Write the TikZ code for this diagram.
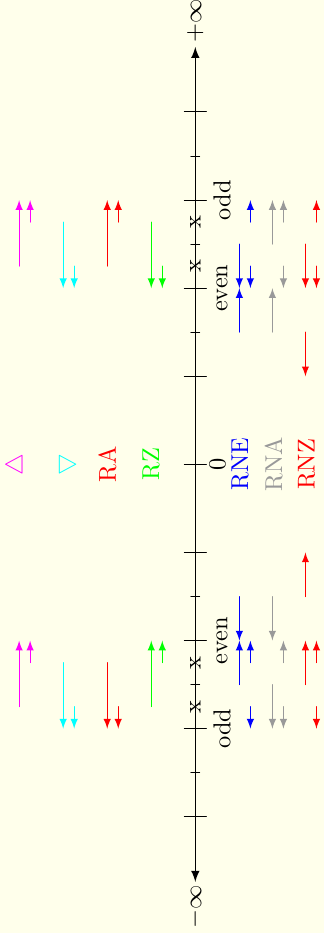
\documentclass[tikz,border=0pt]{standalone}
\definecolor{paper}{RGB}{255,255,235}
\definecolor{rumag}{RGB}{255,0,255}
\definecolor{rdcyan}{RGB}{0,255,255}
\colorlet{rnagray}{black!40}
\begin{document}
\begin{tikzpicture}[scale=1.27,line join=round,line cap=round,>=latex,
	lbl/.style={rotate=90,inner sep=0pt},
	tickmark/.style={line width=0.4pt}]
	\useasboundingbox[fill=paper] (-2.217,-5.319) rectangle (1.461,5.271);
	
	\draw[<->,line width=0.6pt] (0,-4.74) -- (0,4.74);
	\node[lbl] (pinf) at (0,5.03) {$+\infty$};
	\node[lbl] (minf) at (0,-5.02) {$-\infty$};
	
	\draw[tickmark] (-0.125,-4) -- (0.125,-4);
	\draw[tickmark] (-0.125,-3) -- (0.125,-3);
	\draw[tickmark] (-0.125,-2) -- (0.125,-2);
	\draw[tickmark] (-0.125,-1) -- (0.125,-1);
	\draw[tickmark] (-0.125,0) -- (0.125,0);
	\draw[tickmark] (-0.125,1) -- (0.125,1);
	\draw[tickmark] (-0.125,2) -- (0.125,2);
	\draw[tickmark] (-0.125,3) -- (0.125,3);
	\draw[tickmark] (-0.125,4) -- (0.125,4);
	\draw[tickmark] (-0.05,-3.5) -- (0.05,-3.5);
	\draw[tickmark] (-0.05,-2.5) -- (0.05,-2.5);
	\draw[tickmark] (-0.05,-1.5) -- (0.05,-1.5);
	\draw[tickmark] (-0.05,1.5) -- (0.05,1.5);
	\draw[tickmark] (-0.05,2.5) -- (0.05,2.5);
	\draw[tickmark] (-0.05,3.5) -- (0.05,3.5);
	
	\node[lbl] (xa) at (0,2.25) {x};
	\node[lbl] (xb) at (0,2.75) {x};
	\node[lbl] (xc) at (0,-2.25) {x};
	\node[lbl] (xd) at (0,-2.75) {x};
	\node[lbl] (zero) at (0.252,0) {0};
	\node[lbl] (oddp) at (0.304,3) {odd};
	\node[lbl] (evenp) at (0.304,2) {even};
	\node[lbl] (evenm) at (0.304,-2) {even};
	\node[lbl] (oddm) at (0.304,-3) {odd};
	
	\node[lbl,rumag] (ru) at (-2.03,0) {$\bigtriangleup$};
	\node[lbl,rdcyan] (rd) at (-1.479,0) {$\bigtriangledown$};
	\node[lbl,red] (ra) at (-0.997,0) {RA};
	\node[lbl,green] (rz) at (-0.503,0) {RZ};
	\node[lbl,blue] (rne) at (0.507,0) {RNE};
	\node[lbl,rnagray] (rna) at (0.888,0) {RNA};
	\node[lbl,red] (rnz) at (1.262,0) {RNZ};
	
	\draw[->,rumag] (-2,2.25) -- (-2,3);
	\draw[->,rumag] (-1.875,2.75) -- (-1.875,3);
	\draw[->,rumag] (-2,-2.75) -- (-2,-2);
	\draw[->,rumag] (-1.875,-2.25) -- (-1.875,-2);
	
	\draw[->,rdcyan] (-1.5,2.75) -- (-1.5,2);
	\draw[->,rdcyan] (-1.375,2.25) -- (-1.375,2);
	\draw[->,rdcyan] (-1.5,-2.25) -- (-1.5,-3);
	\draw[->,rdcyan] (-1.375,-2.75) -- (-1.375,-3);
	
	\draw[->,red] (-1,2.25) -- (-1,3);
	\draw[->,red] (-0.875,2.75) -- (-0.875,3);
	\draw[->,red] (-1,-2.25) -- (-1,-3);
	\draw[->,red] (-0.875,-2.75) -- (-0.875,-3);
	
	\draw[->,green] (-0.5,2.75) -- (-0.5,2);
	\draw[->,green] (-0.375,2.25) -- (-0.375,2);
	\draw[->,green] (-0.5,-2.75) -- (-0.5,-2);
	\draw[->,green] (-0.375,-2.25) -- (-0.375,-2);
	
	\draw[->,blue] (0.5,2.5) -- (0.5,2);
	\draw[->,blue] (0.5,1.5) -- (0.5,2);
	\draw[->,blue] (0.625,2.75) -- (0.625,3);
	\draw[->,blue] (0.625,2.25) -- (0.625,2);
	\draw[->,blue] (0.5,-1.5) -- (0.5,-2);
	\draw[->,blue] (0.5,-2.5) -- (0.5,-2);
	\draw[->,blue] (0.625,-2.25) -- (0.625,-2);
	\draw[->,blue] (0.625,-2.75) -- (0.625,-3);
	
	\draw[->,rnagray] (0.875,2.5) -- (0.875,3);
	\draw[->,rnagray] (0.875,1.5) -- (0.875,2);
	\draw[->,rnagray] (1,2.75) -- (1,3);
	\draw[->,rnagray] (1,2.25) -- (1,2);
	\draw[->,rnagray] (0.875,-1.5) -- (0.875,-2);
	\draw[->,rnagray] (0.875,-2.5) -- (0.875,-3);
	\draw[->,rnagray] (1,-2.25) -- (1,-2);
	\draw[->,rnagray] (1,-2.75) -- (1,-3);
	
	\draw[->,red] (1.25,2.5) -- (1.25,2);
	\draw[->,red] (1.25,1.5) -- (1.25,1);
	\draw[->,red] (1.375,2.75) -- (1.375,3);
	\draw[->,red] (1.375,2.25) -- (1.375,2);
	\draw[->,red] (1.25,-1.5) -- (1.25,-1);
	\draw[->,red] (1.25,-2.5) -- (1.25,-2);
	\draw[->,red] (1.375,-2.25) -- (1.375,-2);
	\draw[->,red] (1.375,-2.75) -- (1.375,-3);
\end{tikzpicture}
\end{document}
